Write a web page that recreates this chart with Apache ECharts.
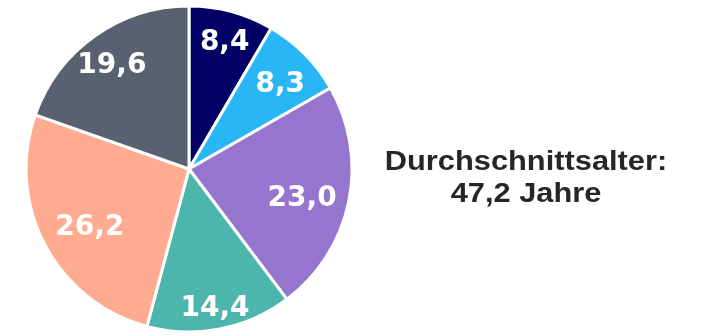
<!DOCTYPE html>
<html>
<head>
<meta charset="utf-8">
<script src="https://cdn.jsdelivr.net/npm/echarts@6/dist/echarts.min.js"></script>
<style>
html,body{margin:0;padding:0;background:#fff;}
#chart{width:701px;height:336px;}
</style>
</head>
<body>
<div id="chart"></div>
<script>
// Age groups share (%) — clockwise from 12 o'clock
const values = [8.4, 8.3, 23.0, 14.4, 26.2, 19.6];
const labels = ['8,4', '8,3', '23,0', '14,4', '26,2', '19,6'];
const noteLines = ['Durchschnittsalter:', '47,2 Jahre'];

// styling / layout
const colors = ['#020066', '#29B6F6', '#9575CD', '#4DB6AC', '#FFAB91', '#596170'];
const labelRadiusFraction = [0.82, 0.77, 0.69, 0.82, 0.67, 0.80];
const center = [189, 169];
const R = 163;

const sliceData = values.map((v, i) => ({ value: v, itemStyle: { color: colors[i] } }));

// main pie
const series = [{
  type: 'pie',
  center: center,
  radius: [0, R],
  startAngle: 90,
  clockwise: true,
  silent: true,
  label: { show: false },
  labelLine: { show: false },
  itemStyle: { borderColor: '#ffffff', borderWidth: 3 },
  data: sliceData
}];

// one transparent copy per label, so each value label sits at its own radial distance
labels.forEach((txt, k) => {
  series.push({
    type: 'pie',
    center: center,
    radius: [0, 2 * labelRadiusFraction[k] * R],
    startAngle: 90,
    clockwise: true,
    silent: true,
    z: 3,
    itemStyle: { color: 'rgba(0,0,0,0)' },
    labelLine: { show: false },
    // digits sit high in the em box; nudge them down to centre them optically
    labelLayout: { dy: 6 },
    data: values.map((v, i) => ({
      value: v,
      name: labels[i],
      label: {
        show: i === k,
        position: 'inside',
        formatter: '{b}',
        color: '#ffffff',
        fontFamily: 'DejaVu Sans',
        fontWeight: 'bold',
        fontSize: 28
      }
    }))
  });
});

const noteFont = 'bold 28px "Liberation Sans", Arial, sans-serif';
const chart = echarts.init(document.getElementById('chart'), null, { renderer: 'canvas' });
chart.setOption({
  animation: false,
  series: series,
  graphic: noteLines.map((line, i) => ({
    type: 'text',
    x: 526,
    y: 162 + i * 32,
    scaleX: 1.1,
    style: {
      text: line,
      align: 'center',
      verticalAlign: 'middle',
      textAlign: 'center',
      textVerticalAlign: 'middle',
      fill: '#262626',
      font: noteFont
    }
  }))
});
</script>
</body>
</html>
